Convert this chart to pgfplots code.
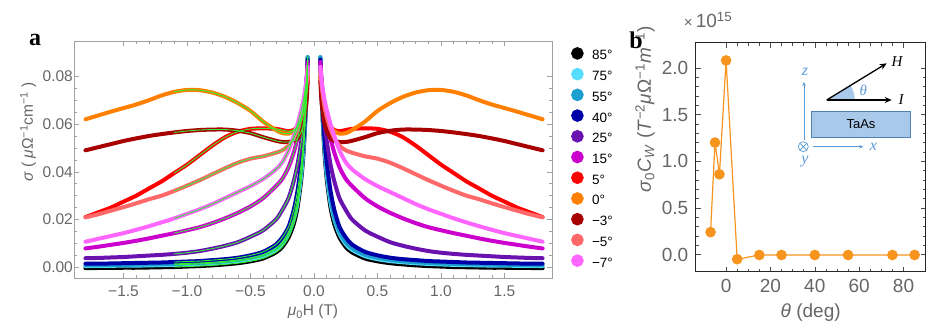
\documentclass[border=0pt]{standalone}
\usepackage{fontspec}
\setmainfont{Liberation Sans}
\newfontfamily\serif{Liberation Serif}
\usepackage{pgfplots}
\usepackage{pgfplotstable}
\pgfplotsset{compat=1.18}
\usetikzlibrary{arrows.meta}

\definecolor{c85}{HTML}{000000}
\definecolor{c75}{HTML}{55DDFF}
\definecolor{c55}{HTML}{1A9FCF}
\definecolor{c40}{HTML}{0000A8}
\definecolor{c25}{HTML}{6A12B0}
\definecolor{c15}{HTML}{CC00CC}
\definecolor{c5}{HTML}{FF0000}
\definecolor{c0}{HTML}{FF8000}
\definecolor{cm3}{HTML}{A80000}
\definecolor{cm5}{HTML}{FF6868}
\definecolor{cm7}{HTML}{FF66FF}
\definecolor{fitgreen}{HTML}{33EE33}
\definecolor{tickgray}{HTML}{666666}
\definecolor{framegray}{HTML}{A0A0A0}
\definecolor{dotorange}{HTML}{F7941D}
\definecolor{inblue}{HTML}{5B9BD5}
\definecolor{rectblue}{HTML}{A9C9EA}

% sigma (muOhm^-1 cm^-1) vs mu0 H (T), one column per angle
\pgfplotstableread{
B     c85     c75    c55    c40    c25    c15    c5     c0     cm3    cm5    cm7
-1.80 -0.0004 0.0005 0.0009 0.0015 0.0038 0.0079 0.021  0.0620 0.0490 0.0209 0.0107
-1.70 -0.0003 0.0006 0.0009 0.0015 0.0039 0.0086 0.023  0.0636 0.0503 0.0222 0.0119
-1.60 -0.0003 0.0006 0.0010 0.0016 0.0041 0.0094 0.025  0.0652 0.0516 0.0237 0.0131
-1.50 -0.0002 0.0007 0.0010 0.0017 0.0043 0.0102 0.0275 0.0667 0.0529 0.0252 0.0143
-1.40 -0.0002 0.0007 0.0011 0.0018 0.0046 0.0111 0.030  0.0682 0.0540 0.0268 0.0157
-1.30 -0.0001 0.0008 0.0012 0.0019 0.0049 0.0121 0.033  0.0700 0.0550 0.0285 0.0172
-1.20 0.0000  0.0009 0.0013 0.0020 0.0052 0.0132 0.036  0.0720 0.0558 0.0300 0.0188
-1.10 0.0001  0.0010 0.0014 0.0022 0.0056 0.0143 0.0395 0.0735 0.0565 0.0320 0.0205
-1.00 0.0003  0.0012 0.0016 0.0024 0.0061 0.0155 0.043  0.0743 0.0571 0.0342 0.0224
-0.90 0.0005  0.0014 0.0018 0.0026 0.0068 0.0168 0.047  0.0742 0.0575 0.0365 0.0243
-0.80 0.0008  0.0017 0.0021 0.0030 0.0078 0.0185 0.051  0.0732 0.0577 0.0390 0.0265
-0.70 0.0012  0.0021 0.0025 0.0034 0.0090 0.0205 0.0545 0.0714 0.0577 0.0415 0.0290
-0.60 0.0017  0.0026 0.0031 0.0040 0.0105 0.0228 0.0568 0.0688 0.0572 0.0438 0.0315
-0.50 0.0025  0.0034 0.0040 0.0050 0.0128 0.0255 0.058  0.0655 0.0562 0.0455 0.034
-0.40 0.0037  0.0047 0.0053 0.0065 0.0155 0.029  0.0582 0.061  0.0545 0.0465 0.037
-0.30 0.0062  0.0073 0.0080 0.0095 0.020  0.034  0.058  0.0575 0.053  0.048  0.041
-0.25 0.0085  0.0097 0.0105 0.0125 0.024  0.037  0.0575 0.0562 0.0525 0.049  0.044
-0.20 0.0125  0.014  0.015  0.017  0.029  0.042  0.057  0.056  0.0525 0.051  0.049
-0.16 0.018   0.020  0.021  0.024  0.036  0.048  0.0575 0.057  0.053  0.054  0.055
-0.13 0.025   0.027  0.029  0.032  0.043  0.054  0.059  0.059  0.054  0.058  0.060
-0.10 0.037   0.039  0.041  0.044  0.053  0.061  0.062  0.0625 0.057  0.063  0.066
-0.08 0.050   0.052  0.054  0.056  0.062  0.068  0.066  0.066  0.061  0.068  0.071
-0.06 0.071   0.072  0.073  0.074  0.076  0.078  0.073  0.073  0.069  0.076  0.078
-0.05 0.088   0.088  0.088  0.087  0.086  0.086  0.080  0.080  0.078  0.083  0.084
0.00  nan     nan    nan    nan    nan    nan    nan    nan    nan    nan    nan
0.05  0.088   0.088  0.088  0.087  0.086  0.086  0.080  0.080  0.078  0.083  0.084
0.06  0.071   0.072  0.073  0.074  0.076  0.078  0.073  0.073  0.069  0.076  0.078
0.08  0.050   0.052  0.054  0.056  0.062  0.068  0.066  0.066  0.061  0.068  0.071
0.10  0.037   0.039  0.041  0.044  0.053  0.061  0.062  0.0625 0.057  0.063  0.066
0.13  0.025   0.027  0.029  0.032  0.043  0.054  0.059  0.059  0.054  0.058  0.060
0.16  0.018   0.020  0.021  0.024  0.036  0.048  0.0575 0.057  0.053  0.054  0.055
0.20  0.0125  0.014  0.015  0.017  0.029  0.042  0.057  0.056  0.0525 0.051  0.049
0.25  0.0085  0.0097 0.0105 0.0125 0.024  0.037  0.0575 0.0562 0.0525 0.049  0.044
0.30  0.0062  0.0073 0.0080 0.0095 0.020  0.034  0.058  0.0575 0.053  0.048  0.041
0.40  0.0037  0.0047 0.0053 0.0065 0.0155 0.029  0.0582 0.061  0.0545 0.0465 0.037
0.50  0.0025  0.0034 0.0040 0.0050 0.0128 0.0255 0.058  0.0655 0.0562 0.0455 0.034
0.60  0.0017  0.0026 0.0031 0.0040 0.0105 0.0228 0.0568 0.0688 0.0572 0.0438 0.0315
0.70  0.0012  0.0021 0.0025 0.0034 0.0090 0.0205 0.0545 0.0714 0.0577 0.0415 0.0290
0.80  0.0008  0.0017 0.0021 0.0030 0.0078 0.0185 0.051  0.0732 0.0577 0.0390 0.0265
0.90  0.0005  0.0014 0.0018 0.0026 0.0068 0.0168 0.047  0.0742 0.0575 0.0365 0.0243
1.00  0.0003  0.0012 0.0016 0.0024 0.0061 0.0155 0.043  0.0743 0.0571 0.0342 0.0224
1.10  0.0001  0.0010 0.0014 0.0022 0.0056 0.0143 0.0395 0.0735 0.0565 0.0320 0.0205
1.20  0.0000  0.0009 0.0013 0.0020 0.0052 0.0132 0.036  0.0720 0.0558 0.0300 0.0188
1.30  -0.0001 0.0008 0.0012 0.0019 0.0049 0.0121 0.033  0.0700 0.0550 0.0285 0.0172
1.40  -0.0002 0.0007 0.0011 0.0018 0.0046 0.0111 0.030  0.0682 0.0540 0.0268 0.0157
1.50  -0.0002 0.0007 0.0010 0.0017 0.0043 0.0102 0.0275 0.0667 0.0529 0.0252 0.0143
1.60  -0.0003 0.0006 0.0010 0.0016 0.0041 0.0094 0.025  0.0652 0.0516 0.0237 0.0131
1.70  -0.0003 0.0006 0.0009 0.0015 0.0039 0.0086 0.023  0.0636 0.0503 0.0222 0.0119
1.80  -0.0004 0.0005 0.0009 0.0015 0.0038 0.0079 0.021  0.0620 0.0490 0.0209 0.0107
}\sigmadata

\begin{document}
\begin{tikzpicture}[x=1pt,y=1pt]
\useasboundingbox (0,-325) rectangle (927,0);

\begin{axis}[
  at={(74pt,-278pt)}, anchor=south west,
  scale only axis, width=478pt, height=237pt,
  xmin=-1.89, xmax=1.874, ymin=-0.0045, ymax=0.0948,
  axis line style={framegray, line width=0.8pt},
  tick style={framegray, line width=0.6pt},
  tick align=inside, tick pos=both,
  major tick length=5pt, minor tick length=3pt,
  xtick={-1.5,-1,-0.5,0,0.5,1,1.5},
  xticklabels={−1.5,−1.0,−0.5,0.0,0.5,1.0,1.5},
  minor x tick num=4,
  scaled y ticks=false,
  ytick={0,0.02,0.04,0.06,0.08},
  yticklabels={0.00,0.02,0.04,0.06,0.08},
  minor y tick num=3,
  ticklabel style={font=\fontsize{15.5}{17}\selectfont, text=tickgray},
  xticklabel style={yshift=-4pt},
  yticklabel style={xshift=2.4pt},
  xlabel={\textit{μ}\textsubscript{0}H (T)},
  ylabel={\textit{σ} ( \textit{μ}Ω\textsuperscript{−1}cm\textsuperscript{−1} )},
  label style={font=\fontsize{15.5}{17}\selectfont, text=tickgray},
  xlabel style={at={(axis description cs:0.5,-0.143)}, anchor=center},
  ylabel style={at={(axis description cs:-0.096,0.616)}, anchor=center},
  unbounded coords=jump,
  legend style={at={(1,1)}, anchor=north west, xshift=19pt, yshift=-6pt,
    draw=none, fill=none, inner sep=0pt, row sep=6.6pt,
    font=\fontsize{13.5}{15}\selectfont,
    nodes={inner sep=1.5pt, text height=10pt, text depth=0pt},
    /tikz/every odd column/.append style={column sep=7pt}},
  legend cell align=left,
  legend image code/.code={\fill (0.15cm,0.05cm) circle (4.2pt);},
  every axis plot/.append style={line width=4pt, line cap=round, smooth, tension=0.45},
]
\addplot[c85] table[x=B,y=c85]{\sigmadata};
\addplot[c75] table[x=B,y=c75]{\sigmadata};
\addplot[c55] table[x=B,y=c55]{\sigmadata};
\addplot[c40] table[x=B,y=c40]{\sigmadata};
\addplot[c25] table[x=B,y=c25]{\sigmadata};
\addplot[c15] table[x=B,y=c15]{\sigmadata};
\addplot[c5]  table[x=B,y=c5]{\sigmadata};
\addplot[c0]  table[x=B,y=c0]{\sigmadata};
\addplot[cm3] table[x=B,y=cm3]{\sigmadata};
\addplot[cm5] table[x=B,y=cm5]{\sigmadata};
\addplot[cm7] table[x=B,y=cm7]{\sigmadata};
\legend{85°,75°,55°,40°,25°,15°,5°,0°,−3°,−5°,−7°}
% fits on the negative-field side
\pgfplotsinvokeforeach{c85,c75,c55,c40,c25,c15,c5,c0,cm3,cm5,cm7}{
  \addplot[fitgreen, line width=0.9pt, forget plot, restrict x to domain=-1.12:-0.04]
    table[x=B,y=#1]{\sigmadata};
}
\end{axis}

\begin{axis}[
  at={(695.7pt,-271.7pt)}, anchor=south west,
  scale only axis, width=230pt, height=229pt,
  xmin=-13.7, xmax=90, ymin=-0.184, ymax=2.27,
  axis line style={black!85, line width=1.2pt},
  tick style={black!70, line width=0.6pt},
  tick align=inside, tick pos=both,
  major tick length=5pt, minor tick length=3pt,
  xtick={0,20,40,60,80}, xticklabels={0,20,40,60,80},
  minor x tick num=3,
  scaled y ticks=false,
  ytick={0,0.5,1,1.5,2}, yticklabels={0.0,0.5,1.0,1.5,2.0},
  minor y tick num=4,
  ticklabel style={font=\fontsize{19}{21}\selectfont, text=tickgray},
  xticklabel style={yshift=-4pt},
  yticklabel style={xshift=-4pt},
  xlabel={\textit{θ} (deg)},
  ylabel={\textit{σ}\textsubscript{0}\textit{C}\textsubscript{\textit{W}} (\textit{T}\textsuperscript{−2}\textit{μ}Ω\textsuperscript{−1}\textit{m}\textsuperscript{−1})},
  label style={font=\fontsize{19}{21}\selectfont, text=tickgray},
  xlabel style={at={(axis description cs:0.5,-0.179)}, anchor=center},
  ylabel style={at={(axis description cs:-0.22,0.71)}, anchor=center},
]
\addplot[dotorange, line width=1.2pt, mark=*, mark size=4.7pt,
  mark options={fill=dotorange, draw=dotorange}]
  coordinates {(-7,0.24) (-5,1.20) (-3,0.86) (0,2.08) (5,-0.05) (15,-0.005)
               (25,-0.005) (40,-0.005) (55,-0.005) (75,-0.005) (85,-0.005)};
\end{axis}

% panel letters and scale factor
\node[font=\serif\bfseries\fontsize{24}{26}\selectfont] at (35,-40) {a};
\node[font=\serif\bfseries\fontsize{24}{26}\selectfont] at (636,-40) {b};
\node[text=tickgray, font=\fontsize{19}{21}\selectfont] at (708,-20)
  {{\fontsize{15}{17}\selectfont×}\,10\textsuperscript{15}};

% inset sketch
\fill[rectblue] (826.7,-100) -- ++(0:28) arc (0:32:28) -- cycle;
\draw[inblue, line width=0.7pt, -{Stealth[length=4pt,width=3.5pt]}] (804,-140) -- (804,-82);
\draw[inblue, line width=0.7pt, -{Stealth[length=4pt,width=3.5pt]}] (813.3,-146.7) -- (863.3,-146.7);
\draw[inblue, line width=0.7pt] (803.3,-146.7) circle (5);
\draw[inblue, line width=0.7pt] (799.8,-143.2) -- (806.8,-150.2) (799.8,-150.2) -- (806.8,-143.2);
\draw[draw=inblue!85!black, fill=rectblue, line width=0.7pt] (811.7,-111.7) rectangle (910,-137.3);
\node[font=\fontsize{13}{15}\selectfont] at (861,-124.3) {TaAs};
\draw[black, line width=1.3pt, -{Stealth[length=7pt,width=6pt]}] (826.7,-100) -- (891.7,-100);
\draw[black, line width=1.3pt, -{Stealth[length=7pt,width=6pt]}] (826.7,-100) -- (886.7,-63.3);
\node[text=inblue, font=\serif\itshape\fontsize{16}{18}\selectfont] at (805,-71.7) {z};
\node[text=inblue, font=\serif\itshape\fontsize{16}{18}\selectfont] at (805,-161.7) {y};
\node[text=inblue, font=\serif\itshape\fontsize{16}{18}\selectfont] at (873.3,-146.7) {x};
\node[text=inblue, font=\serif\itshape\fontsize{15}{17}\selectfont] at (863.3,-90) {θ};
\node[font=\serif\itshape\fontsize{15}{17}\selectfont] at (901,-100) {I};
\node[font=\serif\itshape\fontsize{15}{17}\selectfont] at (897,-61.7) {H};
\end{tikzpicture}
\end{document}
